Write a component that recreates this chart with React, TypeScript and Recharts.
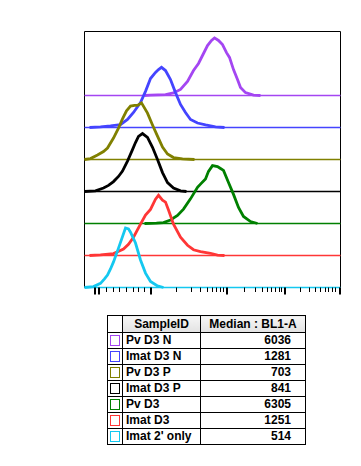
import { LineChart, Line, XAxis, YAxis, ReferenceArea } from "recharts";

// sample names, medians and colours (top lane first, same order as the table)
const samples = ["Pv D3 N", "Imat D3 N", "Pv D3 P", "Imat D3 P", "Pv D3", "Imat D3", "Imat 2' only"];
const medians = [6036, 1281, 703, 841, 6305, 1251, 514];
const colors = ["#a446f2", "#4444ff", "#808000", "#000000", "#008000", "#ff3636", "#14c8f0"];

// histogram outlines: [channel, height % of one lane]
const pvD3N = [[60, 0], [66, 1], [81, 3], [89, 8], [96, 19], [103, 44], [109, 78], [114, 100], [118, 125], [123, 156], [127, 172], [130, 180], [134, 172], [138, 159], [142, 134], [145, 119], [149, 81], [153, 50], [156, 25], [161, 9], [169, 1], [176, 0]];
const imatD3N = [[5, 0], [16, 2], [26, 5], [36, 9], [43, 25], [49, 47], [56, 78], [61, 113], [66, 153], [71, 172], [74, 181], [77, 188], [81, 178], [86, 150], [91, 109], [96, 72], [101, 47], [106, 25], [113, 14], [121, 8], [131, 2], [140, 0]];
const pvD3P = [[0, 0], [6, 3], [13, 14], [19, 25], [23, 36], [29, 67], [34, 98], [38, 127], [42, 152], [46, 167], [50, 169], [53, 169], [57, 177], [63, 145], [68, 108], [73, 73], [78, 39], [83, 17], [89, 6], [98, 2], [110, 0]];
const imatD3P = [[0, 0], [11, 2], [19, 11], [24, 19], [29, 31], [34, 47], [38, 64], [43, 95], [48, 131], [51, 153], [54, 172], [58, 181], [63, 169], [68, 138], [73, 100], [78, 59], [83, 28], [89, 11], [96, 2], [102, 0]];
const pvD3 = [[60, 0], [72, 1], [79, 3], [86, 11], [93, 25], [99, 45], [106, 77], [113, 113], [116, 123], [121, 139], [124, 163], [128, 181], [133, 178], [136, 172], [139, 166], [144, 128], [149, 91], [154, 50], [159, 22], [166, 6], [173, 0]];
const imatD3 = [[5, 0], [16, 2], [29, 6], [39, 20], [44, 35], [49, 57], [56, 98], [61, 126], [66, 144], [71, 176], [74, 188], [78, 173], [81, 167], [84, 142], [89, 98], [96, 57], [103, 32], [109, 18], [116, 12], [126, 7], [133, 1], [140, 0]];
const imat2only = [[0, 0], [9, 3], [16, 13], [20, 27], [23, 39], [26, 58], [29, 80], [34, 123], [38, 159], [41, 186], [44, 183], [46, 173], [51, 139], [56, 86], [61, 45], [66, 19], [73, 5], [79, 0]];

const histograms = [pvD3N, imatD3N, pvD3P, imatD3P, pvD3, imatD3, imat2only];

// axis tick positions (channels); no labels in the original
const majorTicks = [10, 14, 66, 142, 200, 255];
const minorTicks = [22, 29, 35, 42, 49, 54, 60, 92, 107, 116, 123, 128, 132, 136, 139, 160, 171, 178, 183, 187, 191, 195, 197, 216, 225, 231, 236, 241, 244, 248, 251];

const LANE = 100;
const series = samples.map((name, i) => {
  const lane = samples.length - 1 - i;
  return {
    name,
    color: colors[i],
    baseline: [{ x: 0, y: lane * LANE }, { x: 256, y: lane * LANE }],
    data: histograms[i].map(([x, h]) => ({ x, y: lane * LANE + h })),
  };
});

function AxisTick(props: any) {
  const { x, y, payload } = props;
  const major = majorTicks.includes(payload.value);
  return (
    <line
      x1={major ? Math.round(x) : x}
      x2={major ? Math.round(x) : x}
      y1={y}
      y2={y + (major ? 7 : 4.5)}
      stroke="#000"
      strokeWidth={major ? 2 : 1}
    />
  );
}

const cell: React.CSSProperties = {
  border: "1px solid #000",
  height: 15,
  padding: "0 3px",
  lineHeight: "15px",
  whiteSpace: "nowrap",
};

export default function App() {
  return (
    <div style={{ position: "absolute", left: 0, top: 0, width: 361, height: 466, background: "#fff" }}>
      <LineChart
        width={361}
        height={300}
        margin={{ top: 31.5, left: 84.5, right: 20.5, bottom: 0 }}
      >
        <XAxis
          dataKey="x"
          type="number"
          domain={[0, 256]}
          ticks={[...majorTicks, ...minorTicks].sort((a, b) => a - b)}
          interval={0}
          tick={AxisTick}
          tickLine={false}
          axisLine={false}
          tickSize={0}
          tickMargin={0}
          height={12.5}
        />
        <YAxis hide type="number" domain={[0, 800]} />
        {series.map((s) => (
          <Line
            key={"b" + s.name}
            data={s.baseline}
            dataKey="y"
            type="linear"
            stroke={s.color}
            strokeWidth={1.4}
            dot={false}
            activeDot={false}
            isAnimationActive={false}
          />
        ))}
        {series.map((s) => (
          <Line
            key={s.name}
            data={s.data}
            dataKey="y"
            type="linear"
            stroke={s.color}
            strokeWidth={2.8}
            dot={false}
            isAnimationActive={false}
          />
        ))}
        <ReferenceArea x1={0} x2={256} y1={0} y2={800} fill="none" stroke="#000" strokeWidth={1} ifOverflow="visible" />
      </LineChart>

      <table
        style={{
          position: "absolute",
          left: 107,
          top: 315,
          width: 198,
          borderCollapse: "collapse",
          tableLayout: "fixed",
          fontFamily: "'Liberation Sans', Arial, sans-serif",
          fontWeight: "bold",
          fontSize: 12,
          color: "#000",
        }}
      >
        <colgroup>
          <col style={{ width: 15 }} />
          <col style={{ width: 78 }} />
          <col style={{ width: 105 }} />
        </colgroup>
        <thead>
          <tr>
            <th style={{ ...cell, height: 16 }}></th>
            <th style={{ ...cell, height: 16, background: "linear-gradient(#f6f6f6, #e2e2e2)", textAlign: "center" }}>SampleID</th>
            <th style={{ ...cell, height: 16, background: "linear-gradient(#f6f6f6, #e2e2e2)", textAlign: "center" }}>Median : BL1-A</th>
          </tr>
        </thead>
        <tbody>
          {samples.map((name, i) => (
            <tr key={name}>
              <td style={{ ...cell, padding: 0, textAlign: "center" }}>
                <div
                  style={{
                    width: 8,
                    height: 9,
                    border: `1.5px solid ${colors[i]}`,
                    margin: "0 auto",
                    boxSizing: "content-box",
                  }}
                />
              </td>
              <td style={{ ...cell, textAlign: "left" }}>{name}</td>
              <td style={{ ...cell, textAlign: "right", paddingRight: 14 }}>{medians[i]}</td>
            </tr>
          ))}
        </tbody>
      </table>
    </div>
  );
}
